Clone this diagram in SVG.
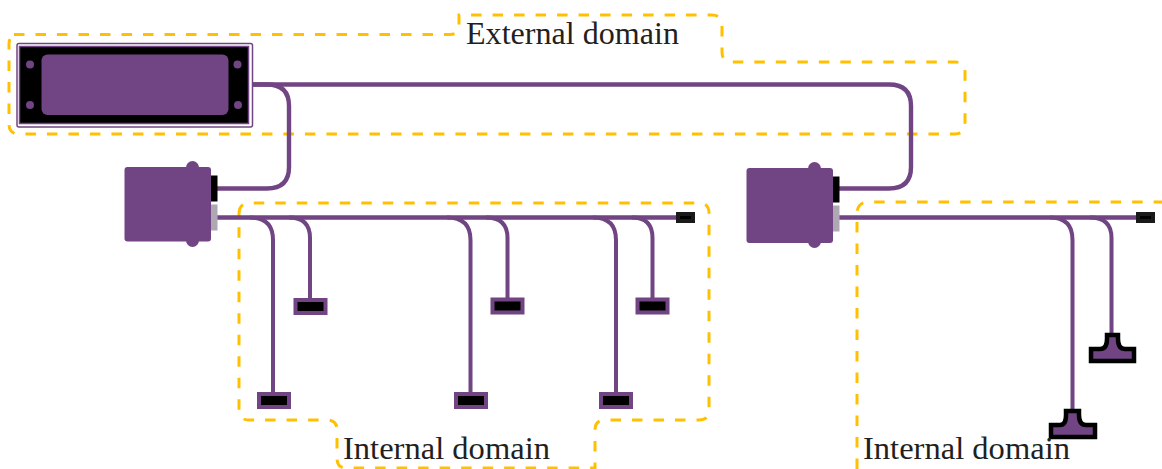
<svg xmlns="http://www.w3.org/2000/svg" width="1162" height="469" viewBox="0 0 1162 469">
<style>
.dom{fill:none;stroke:#ffc000;stroke-width:3;stroke-dasharray:10.5 11}
.w{fill:none;stroke:#714583;stroke-width:4}
.wt{fill:none;stroke:#714583;stroke-width:4.4}
.p{fill:#714583}
.lbl{font-family:"Liberation Serif",serif;font-size:31px;fill:#231f20}
.stub{fill:#714583}
.stubi{fill:#000}
.t{fill:#714583;stroke:#000;stroke-width:4.500;stroke-linejoin:miter}
</style>
<g id="domains">
<path id="external-domain" class="dom" d="M14 34.500H450Q459 34.500 459 25V15H712Q722 15 722 25V52Q722 62 732 62H955Q965 62 965 72V124Q965 134 955 134H19Q9 134 9 124V44Q9 34.500 19 34.500"/>
<path id="internal-domain-1" class="dom" d="M239 214Q239 203 250 203H699Q709 203 709 213V410Q709 420 699 420H605Q595 420 595 430V468H346Q337 468 337 458V430Q337 420 327 420H249Q239 420 239 410Z"/>
<path id="internal-domain-2" class="dom" d="M857 469V214Q857 202 869 202H1162"/>
</g>
<g id="connectors">
<path class="wt" d="M252 84.500H889Q911 84.500 911 106V167Q911 188.500 889 188.500H838"/>
<path class="wt" d="M252 84.500H267Q289 84.500 289 106V167Q289 188.500 267 188.500H217"/>
<path class="wt" d="M217 217.500H680"/>
<path class="wt" d="M838 217.500H1140"/>
<path class="w" d="M250 217.500Q273 217.500 273 240V394"/>
<path class="w" d="M289 217.500Q310 217.500 310 238V300"/>
<path class="w" d="M447 217.500Q470.500 217.500 470.500 240V394"/>
<path class="w" d="M486 217.500Q507.500 217.500 507.500 238V300"/>
<path class="w" d="M593 217.500Q616 217.500 616 240V394"/>
<path class="w" d="M632 217.500Q652.500 217.500 652.500 238V300"/>
<path class="w" d="M1050 217.500Q1072.500 217.500 1072.500 240V412"/>
<path class="w" d="M1090 217.500Q1111.500 217.500 1111.500 238V335"/>
</g>
<g id="panel">
<rect x="17" y="43.500" width="235.500" height="83.500" rx="2" fill="#fff" stroke="#714583" stroke-width="1.500"/>
<rect x="19.500" y="46.500" width="229" height="77" fill="#000" stroke="#714583" stroke-width="1.500"/>
<rect x="41.500" y="54.500" width="187" height="60.500" rx="6" class="p"/>
<circle cx="30" cy="64.500" r="4" class="p"/><circle cx="30" cy="105" r="4" class="p"/>
<circle cx="237.500" cy="64.500" r="4" class="p"/><circle cx="238" cy="105" r="4" class="p"/>
</g>
<g id="controller-1">
<rect x="186" y="161" width="13" height="86" rx="6.500" class="p"/>
<rect x="124.500" y="167" width="86.500" height="74.500" rx="3" class="p"/>
<rect x="211" y="175.500" width="6.500" height="26" fill="#000"/>
<rect x="211" y="204.500" width="6.500" height="26" fill="#afa8b3"/>
</g>
<g id="controller-2">
<rect x="808" y="162" width="13" height="86" rx="6.500" class="p"/>
<rect x="746.500" y="168" width="86.500" height="75" rx="3" class="p"/>
<rect x="833" y="176.500" width="6.500" height="26" fill="#000"/>
<rect x="833" y="205.500" width="6.500" height="26" fill="#afa8b3"/>
</g>
<g id="terminator-1"><rect x="676" y="212" width="19" height="11" fill="#1a1a1a"/><rect x="680" y="216" width="11" height="3" fill="#000"/></g>
<g id="terminator-2"><rect x="1136" y="212" width="19" height="11" fill="#1a1a1a"/><rect x="1140" y="216" width="11" height="3" fill="#000"/></g>
<g id="device-1"><rect x="257" y="392" width="34" height="17" class="stub"/><rect x="261" y="396" width="26" height="9" class="stubi"/></g>
<g id="device-2"><rect x="293.500" y="298" width="34" height="17" class="stub"/><rect x="297.500" y="302" width="26" height="9" class="stubi"/></g>
<g id="device-3"><rect x="454" y="392" width="34" height="17" class="stub"/><rect x="458" y="396" width="26" height="9" class="stubi"/></g>
<g id="device-4"><rect x="490.500" y="297.500" width="34" height="17" class="stub"/><rect x="494.500" y="301.500" width="26" height="9" class="stubi"/></g>
<g id="device-5"><rect x="599" y="392" width="34" height="17" class="stub"/><rect x="603" y="396" width="26" height="9" class="stubi"/></g>
<g id="device-6"><rect x="635.500" y="297.500" width="34" height="17" class="stub"/><rect x="639.500" y="301.500" width="26" height="9" class="stubi"/></g>
<g id="t-connector-1"><path class="t" d="M1107 335H1118V339Q1118 349 1125 349H1134V361H1091V349H1100Q1107 349 1107 339Z"/></g>
<g id="t-connector-2"><path class="t" d="M1066 411H1079V415Q1079 425 1086 425H1095V437H1051V425H1060Q1066 425 1066 415Z"/></g>
<g id="labels">
<text class="lbl" x="466" y="43.500" textLength="213" lengthAdjust="spacingAndGlyphs">External domain</text>
<text class="lbl" x="343" y="458.500" textLength="207" lengthAdjust="spacingAndGlyphs">Internal domain</text>
<text class="lbl" x="863" y="458.500" textLength="207" lengthAdjust="spacingAndGlyphs">Internal domain</text>
</g>
</svg>
